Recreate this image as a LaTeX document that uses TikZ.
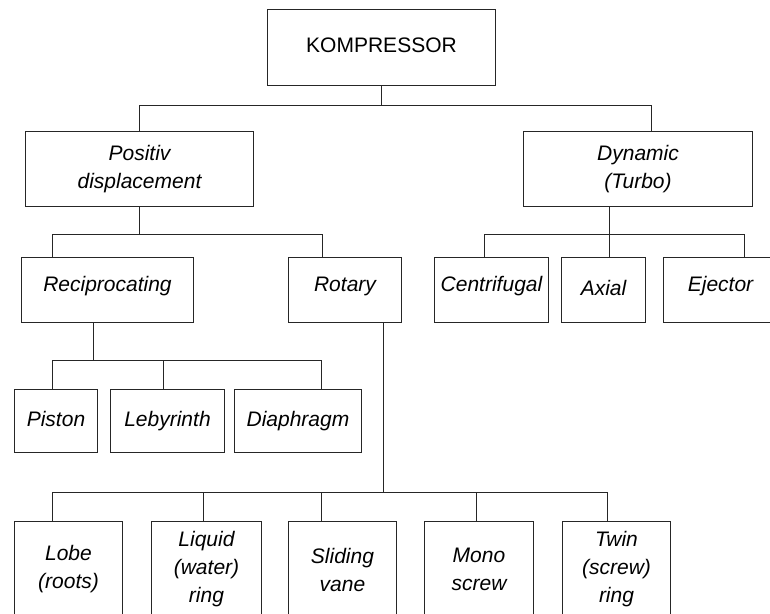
\documentclass[tikz,border=0pt]{standalone}
\usepackage{fontspec}
\setmainfont{Liberation Sans}
\usepackage{tikz}
\usetikzlibrary{positioning}

\begin{document}
\begin{tikzpicture}[
    x=1pt, y=-1pt,
    block/.style={rectangle, draw=black!85, line width=1.7pt, inner sep=0pt, outer sep=0pt, align=center, font=\fontsize{21}{28}\selectfont\itshape},
    mid/.style={text height=9pt, text depth=7pt},
    low/.style={text height=12pt, text depth=2pt},
    link/.style={draw=black!85, line width=1.7pt}
]
    \useasboundingbox (0,0) rectangle (770,613);
    \node [block, low, font=\fontsize{21}{28}\selectfont, minimum width=228pt, minimum height=76pt] (komp) at (381.5,47.5) {KOMPRESSOR};
    \node [block, minimum width=228pt, minimum height=75pt] (pos) at (139.5,169) {Positiv\\displacement};
    \node [block, minimum width=229pt, minimum height=75pt] (dyn) at (638,169) {Dynamic\\(Turbo)};
    \node [block, mid, minimum width=172pt, minimum height=65pt] (recip) at (107.5,290) {Reciprocating};
    \node [block, mid, minimum width=113pt, minimum height=65pt] (rot) at (345,290) {Rotary};
    \node [block, mid, minimum width=114pt, minimum height=65pt] (centr) at (491.5,290) {Centrifugal};
    \node [block, low, minimum width=84pt, minimum height=65pt] (axial) at (603.5,290) {Axial};
    \node [block, mid, minimum width=114pt, minimum height=65pt] (eject) at (720.5,290) {Ejector};
    \node [block, low, minimum width=83pt, minimum height=63pt] (piston) at (56,421) {Piston};
    \node [block, low, minimum width=114pt, minimum height=63pt] (leby) at (167.5,421) {Lebyrinth};
    \node [block, low, minimum width=127pt, minimum height=63pt] (diaph) at (298,421) {Diaphragm};
    \node [block, minimum width=108pt, minimum height=96pt] (lobe) at (68.5,569.5) {Lobe\\(roots)};
    \node [block, minimum width=110pt, minimum height=96pt] (liquid) at (206.5,569.5) {Liquid\\(water)\\ring};
    \node [block, minimum width=108pt, minimum height=96pt] (sliding) at (342.5,569.5) {Sliding\\vane};
    \node [block, minimum width=109pt, minimum height=96pt] (mono) at (479,569.5) {Mono\\screw};
    \node [block, minimum width=108pt, minimum height=96pt] (twin) at (616.5,569.5) {Twin\\(screw)\\ring};
    \draw [link] (komp.south) -- ++(0,20) coordinate (b1);
    \draw [link] (pos.north) |- (b1) -| ([xshift=13.5pt]dyn.north);
    \draw [link] (pos.south) -- ++(0,28) coordinate (b2);
    \draw [link] ([xshift=-55pt]recip.north) |- (b2) -| ([xshift=-22.5pt]rot.north);
    \draw [link] ([xshift=-28.5pt]dyn.south) -- ++(0,28) coordinate (b3) -- ([xshift=6pt]axial.north);
    \draw [link] ([xshift=-7pt]centr.north) |- (b3) -| ([xshift=24pt]eject.north);
    \draw [link] ([xshift=-14pt]recip.south) -- ++(0,38) coordinate (b4);
    \draw [link] ([xshift=-3.5pt]piston.north) |- (b4) -| ([xshift=23.5pt]diaph.north);
    \draw [link] ([xshift=-4pt]leby.north) -- ++(0,-29);
    \draw [link] ([xshift=38.5pt]rot.south) -- ++(0,170) coordinate (b5);
    \draw [link] ([xshift=-16pt]lobe.north) |- (b5) -| ([xshift=-9pt]twin.north);
    \draw [link] ([xshift=-3pt]liquid.north) -- ++(0,-29);
    \draw [link] ([xshift=-21pt]sliding.north) -- ++(0,-29);
    \draw [link] ([xshift=-2.5pt]mono.north) -- ++(0,-29);
\end{tikzpicture}
\end{document}
